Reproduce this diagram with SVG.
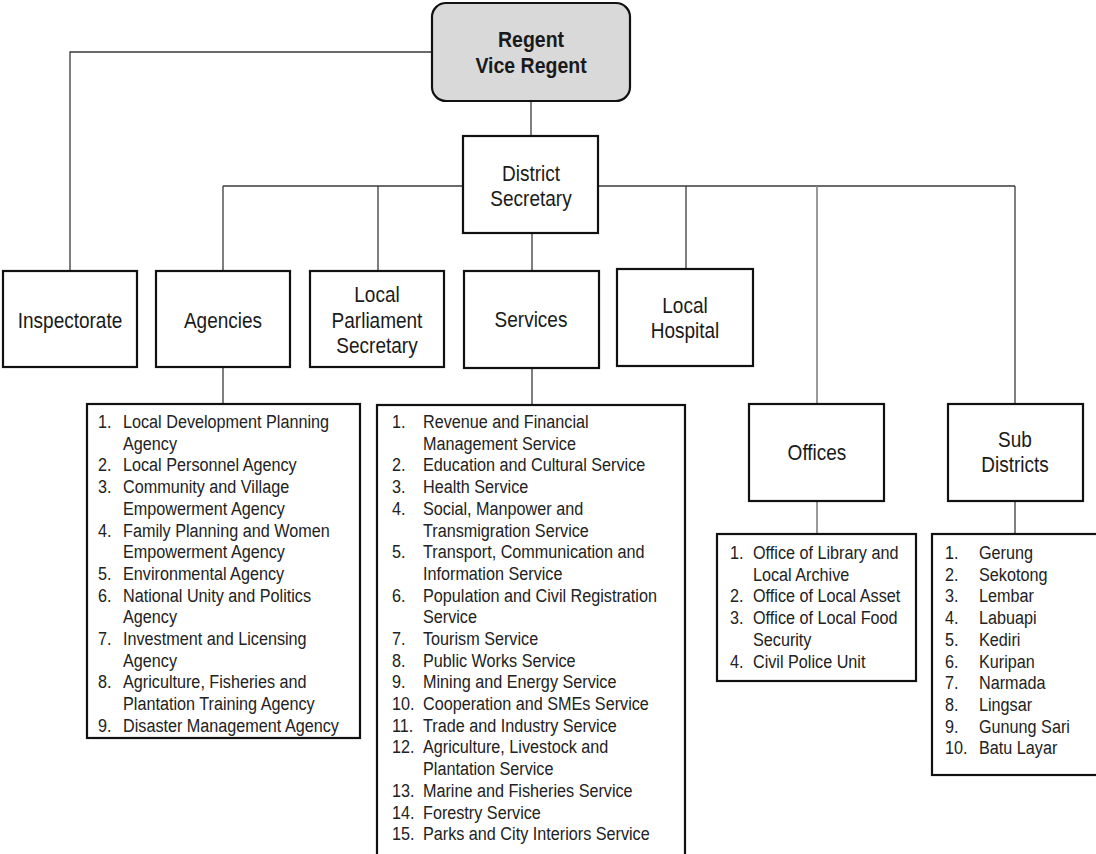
<svg xmlns="http://www.w3.org/2000/svg" width="1096" height="854" viewBox="0 0 1096 854">
<style>
.box{fill:#fff;stroke:#111;stroke-width:2.2}
.top{fill:#d9d9d9;stroke:#111;stroke-width:2.2}
.ln{fill:none;stroke:#3a3a3a;stroke-width:1.3}
.lg{fill:none;stroke:#808080;stroke-width:1.6}
.nt{font-family:"Liberation Sans",Arial,sans-serif;font-size:19px;fill:#1a1a1a;text-anchor:middle}
.bt{font-family:"Liberation Sans",Arial,sans-serif;font-size:19.5px;font-weight:bold;fill:#1a1a1a;text-anchor:middle}
.lt{font-family:"Liberation Sans",Arial,sans-serif;font-size:16.2px;fill:#222}
</style>
<rect width="1096" height="854" fill="#fff"/>
<g id="connectors">
<polyline class="ln" points="432,52 70,52 70,271"/>
<line class="ln" x1="531" y1="101" x2="531" y2="136"/>
<line class="ln" x1="223" y1="186" x2="464" y2="186"/>
<line class="ln" x1="598" y1="186" x2="1015" y2="186"/>
<line class="ln" x1="223" y1="186" x2="223" y2="271"/>
<line class="ln" x1="378" y1="186" x2="378" y2="271"/>
<line class="ln" x1="686" y1="186" x2="686" y2="269"/>
<line class="lg" x1="817" y1="186" x2="817" y2="404"/>
<line class="ln" x1="1015" y1="186" x2="1015" y2="404"/>
<line class="ln" x1="532" y1="233" x2="532" y2="271"/>
<line class="ln" x1="223" y1="367" x2="223" y2="404"/>
<line class="ln" x1="532" y1="368" x2="532" y2="405"/>
<line class="lg" x1="817" y1="501" x2="817" y2="534"/>
<line class="ln" x1="1015" y1="501" x2="1015" y2="534"/>
</g>
<g id="regent">
<rect class="top" x="432" y="3" width="198" height="98" rx="14"/>
<text class="bt" transform="translate(531,47) scale(1,1.16)">Regent</text>
<text class="bt" transform="translate(531,73) scale(1,1.16)">Vice Regent</text>
</g>
<g id="district-secretary">
<rect class="box" x="463" y="136" width="135" height="97"/>
<text class="nt" transform="translate(531,181) scale(1,1.16)">District</text>
<text class="nt" transform="translate(531,206) scale(1,1.16)">Secretary</text>
</g>
<g id="inspectorate">
<rect class="box" x="3" y="271" width="134" height="96"/>
<text class="nt" transform="translate(70,328) scale(1,1.16)">Inspectorate</text>
</g>
<g id="agencies">
<rect class="box" x="156" y="271" width="134" height="96"/>
<text class="nt" transform="translate(223,328) scale(1,1.16)">Agencies</text>
</g>
<g id="local-parliament">
<rect class="box" x="310" y="271" width="134" height="96"/>
<text class="nt" transform="translate(377,302) scale(1,1.16)">Local</text>
<text class="nt" transform="translate(377,328) scale(1,1.16)">Parliament</text>
<text class="nt" transform="translate(377,353) scale(1,1.16)">Secretary</text>
</g>
<g id="services">
<rect class="box" x="464" y="271" width="135" height="97"/>
<text class="nt" transform="translate(531,327) scale(1,1.16)">Services</text>
</g>
<g id="local-hospital">
<rect class="box" x="617" y="269" width="136" height="97"/>
<text class="nt" transform="translate(685,313) scale(1,1.16)">Local</text>
<text class="nt" transform="translate(685,338) scale(1,1.16)">Hospital</text>
</g>
<g id="offices">
<rect class="box" x="749" y="404" width="135" height="97"/>
<text class="nt" transform="translate(817,460) scale(1,1.16)">Offices</text>
</g>
<g id="sub-districts">
<rect class="box" x="948" y="404" width="135" height="97"/>
<text class="nt" transform="translate(1015,447) scale(1,1.16)">Sub</text>
<text class="nt" transform="translate(1015,472) scale(1,1.16)">Districts</text>
</g>
<g id="agencies-list">
<rect class="box" x="87" y="404" width="273" height="334"/>
<text class="lt" transform="translate(0,428) scale(1,1.16)">
<tspan x="98" y="0">1.</tspan><tspan x="123" y="0">Local Development  Planning</tspan>
<tspan x="123" y="18.71">Agency</tspan>
<tspan x="98" y="37.41">2.</tspan><tspan x="123" y="37.41">Local Personnel Agency</tspan>
<tspan x="98" y="56.12">3.</tspan><tspan x="123" y="56.12">Community and Village</tspan>
<tspan x="123" y="74.83">Empowerment Agency</tspan>
<tspan x="98" y="93.54">4.</tspan><tspan x="123" y="93.54">Family Planning and Women</tspan>
<tspan x="123" y="112.24">Empowerment Agency</tspan>
<tspan x="98" y="130.95">5.</tspan><tspan x="123" y="130.95">Environmental Agency</tspan>
<tspan x="98" y="149.66">6.</tspan><tspan x="123" y="149.66">National Unity and Politics</tspan>
<tspan x="123" y="168.36">Agency</tspan>
<tspan x="98" y="187.07">7.</tspan><tspan x="123" y="187.07">Investment and Licensing</tspan>
<tspan x="123" y="205.78">Agency</tspan>
<tspan x="98" y="224.48">8.</tspan><tspan x="123" y="224.48">Agriculture, Fisheries and</tspan>
<tspan x="123" y="243.19">Plantation Training Agency</tspan>
<tspan x="98" y="261.9">9.</tspan><tspan x="123" y="261.9">Disaster Management Agency</tspan>
</text>
</g>
<g id="services-list">
<rect class="box" x="377" y="405" width="308" height="460"/>
<text class="lt" transform="translate(0,428) scale(1,1.16)">
<tspan x="392" y="0">1.</tspan><tspan x="423" y="0">Revenue and Financial</tspan>
<tspan x="423" y="18.71">Management Service</tspan>
<tspan x="392" y="37.41">2.</tspan><tspan x="423" y="37.41">Education and Cultural Service</tspan>
<tspan x="392" y="56.12">3.</tspan><tspan x="423" y="56.12">Health Service</tspan>
<tspan x="392" y="74.83">4.</tspan><tspan x="423" y="74.83">Social, Manpower and</tspan>
<tspan x="423" y="93.54">Transmigration Service</tspan>
<tspan x="392" y="112.24">5.</tspan><tspan x="423" y="112.24">Transport, Communication and</tspan>
<tspan x="423" y="130.95">Information Service</tspan>
<tspan x="392" y="149.66">6.</tspan><tspan x="423" y="149.66">Population and Civil Registration</tspan>
<tspan x="423" y="168.36">Service</tspan>
<tspan x="392" y="187.07">7.</tspan><tspan x="423" y="187.07">Tourism Service</tspan>
<tspan x="392" y="205.78">8.</tspan><tspan x="423" y="205.78">Public Works Service</tspan>
<tspan x="392" y="224.48">9.</tspan><tspan x="423" y="224.48">Mining and Energy Service</tspan>
<tspan x="392" y="243.19">10.</tspan><tspan x="423" y="243.19">Cooperation and SMEs Service</tspan>
<tspan x="392" y="261.9">11.</tspan><tspan x="423" y="261.9">Trade and Industry Service</tspan>
<tspan x="392" y="280.6">12.</tspan><tspan x="423" y="280.6">Agriculture, Livestock and</tspan>
<tspan x="423" y="299.31">Plantation Service</tspan>
<tspan x="392" y="318.02">13.</tspan><tspan x="423" y="318.02">Marine and Fisheries Service</tspan>
<tspan x="392" y="336.73">14.</tspan><tspan x="423" y="336.73">Forestry Service</tspan>
<tspan x="392" y="355.43">15.</tspan><tspan x="423" y="355.43">Parks and City Interiors Service</tspan>
</text>
</g>
<g id="offices-list">
<rect class="box" x="717" y="534" width="199" height="147"/>
<text class="lt" transform="translate(0,559) scale(1,1.16)">
<tspan x="730" y="0">1.</tspan><tspan x="753" y="0">Office of Library and</tspan>
<tspan x="753" y="18.71">Local Archive</tspan>
<tspan x="730" y="37.41">2.</tspan><tspan x="753" y="37.41">Office of Local Asset</tspan>
<tspan x="730" y="56.12">3.</tspan><tspan x="753" y="56.12">Office of Local Food</tspan>
<tspan x="753" y="74.83">Security</tspan>
<tspan x="730" y="93.54">4.</tspan><tspan x="753" y="93.54">Civil Police Unit</tspan>
</text>
</g>
<g id="sub-districts-list">
<rect class="box" x="932" y="534" width="180" height="241"/>
<text class="lt" transform="translate(0,559) scale(1,1.16)">
<tspan x="945" y="0">1.</tspan><tspan x="979" y="0">Gerung</tspan>
<tspan x="945" y="18.71">2.</tspan><tspan x="979" y="18.71">Sekotong</tspan>
<tspan x="945" y="37.41">3.</tspan><tspan x="979" y="37.41">Lembar</tspan>
<tspan x="945" y="56.12">4.</tspan><tspan x="979" y="56.12">Labuapi</tspan>
<tspan x="945" y="74.83">5.</tspan><tspan x="979" y="74.83">Kediri</tspan>
<tspan x="945" y="93.54">6.</tspan><tspan x="979" y="93.54">Kuripan</tspan>
<tspan x="945" y="112.24">7.</tspan><tspan x="979" y="112.24">Narmada</tspan>
<tspan x="945" y="130.95">8.</tspan><tspan x="979" y="130.95">Lingsar</tspan>
<tspan x="945" y="149.66">9.</tspan><tspan x="979" y="149.66">Gunung Sari</tspan>
<tspan x="945" y="168.36">10.</tspan><tspan x="979" y="168.36">Batu Layar</tspan>
</text>
</g>
</svg>
